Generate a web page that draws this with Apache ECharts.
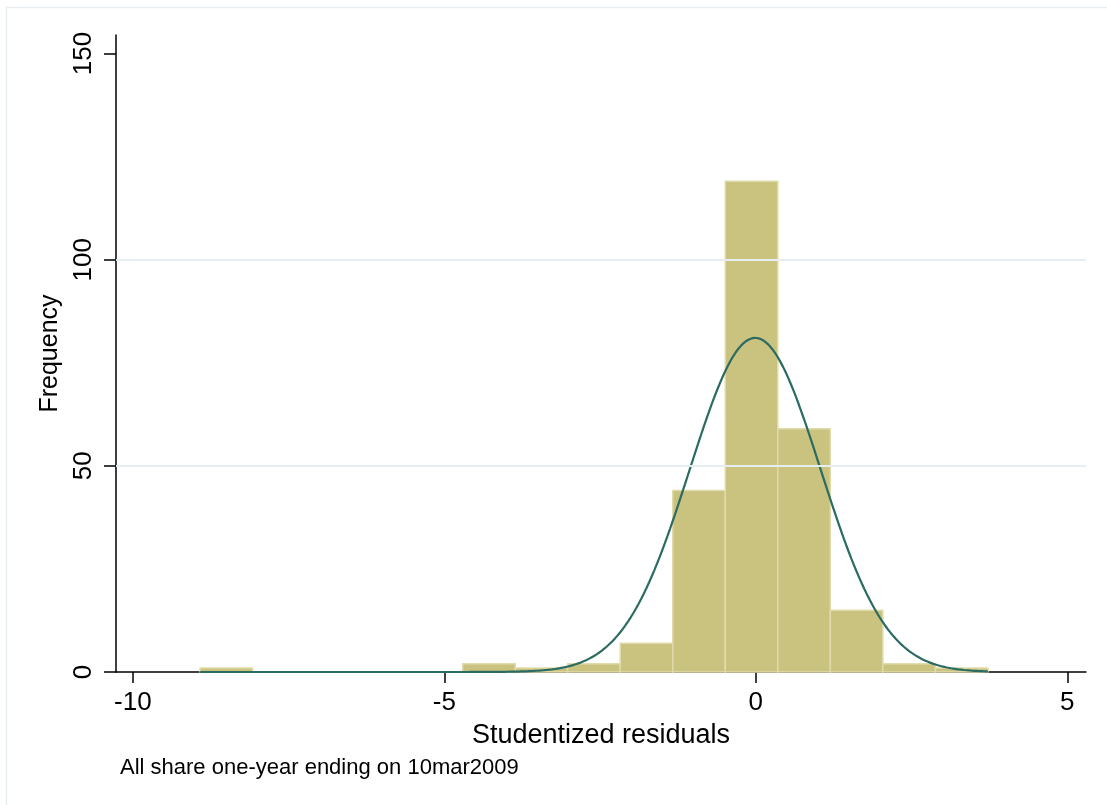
<!DOCTYPE html>
<html>
<head>
<meta charset="utf-8">
<script src="https://cdn.jsdelivr.net/npm/echarts@6/dist/echarts.min.js"></script>
<style>
  html, body { margin: 0; padding: 0; background: #fff; }
  #chart { width: 1107px; height: 805px; }
</style>
</head>
<body>
<div id="chart"></div>
<script>
// histogram of studentized residuals (15 equal bins)
const binStart = -8.92
const binWidth = 0.843
const counts = [1, 0, 0, 0, 0, 2, 1, 2, 7, 44, 119, 59, 15, 2, 1]

// normal overlay, fitted on the residuals
const fitMean = -0.01
const fitSd = 1.05

const xTicks = [-10, -5, 0, 5]
const yTicks = [0, 50, 100, 150]
const gridValues = [50, 100]

const font = '"Liberation Sans", Arial, sans-serif'

const bins = counts.map((c, i) => [binStart + i * binWidth, binStart + (i + 1) * binWidth, c])
const total = counts.reduce((a, b) => a + b, 0)
const binEnd = binStart + counts.length * binWidth

const curve = []
const nSteps = 300
for (let i = 0; i <= nSteps; i++) {
  const x = binStart + (binEnd - binStart) * i / nSteps
  const z = (x - fitMean) / fitSd
  curve.push([x, total * binWidth * Math.exp(-0.5 * z * z) / (fitSd * Math.sqrt(2 * Math.PI))])
}

const chart = echarts.init(document.getElementById('chart'))

chart.setOption({
  backgroundColor: '#fff',
  animation: false,
  grid: { left: 116, top: 35, right: 21, bottom: 133 },
  xAxis: {
    type: 'value',
    min: -10.27,
    max: 5.30,
    name: 'Studentized residuals',
    nameLocation: 'middle',
    nameGap: 50,
    nameTextStyle: { color: '#000', fontSize: 27, fontFamily: font },
    axisLine: { onZero: false, lineStyle: { color: '#000', width: 1.5 } },
    axisTick: { customValues: xTicks, length: 11, lineStyle: { color: '#000', width: 1.5 } },
    axisLabel: { customValues: xTicks, color: '#000', fontSize: 26, fontFamily: font, margin: 18 },
    splitLine: { show: false }
  },
  yAxis: {
    type: 'value',
    min: 0,
    max: 154.5,
    name: 'Frequency',
    nameLocation: 'middle',
    nameGap: 52,
    nameTextStyle: { color: '#000', fontSize: 25, fontFamily: font },
    axisLine: { show: true, onZero: false, lineStyle: { color: '#000', width: 1.5 } },
    axisTick: { show: true, customValues: yTicks, length: 12, lineStyle: { color: '#000', width: 1.5 } },
    axisLabel: { customValues: yTicks, rotate: 90, color: '#000', fontSize: 26, fontFamily: font, margin: 19 },
    splitLine: { show: false }
  },
  graphic: [
    {
      type: 'rect',
      shape: { x: 6.5, y: 7.5, width: 1200, height: 900 },
      style: { fill: 'none', stroke: '#e6eef1', lineWidth: 1.5 },
      silent: true
    },
    {
      type: 'text',
      left: 120,
      top: 757,
      style: { text: 'All share one-year ending on 10mar2009', fill: '#000', fontSize: 22, fontFamily: font }
    }
  ],
  series: [
    // grid lines at 50 and 100
    {
      type: 'line',
      data: [],
      z: 1,
      markLine: {
        silent: true,
        symbol: 'none',
        label: { show: false },
        lineStyle: { color: '#e6eef1', width: 2, type: 'solid' },
        data: gridValues.map(v => ({ yAxis: v }))
      }
    },
    {
      type: 'custom',
      z: 2,
      data: bins,
      renderItem: (params, api) => {
        const p0 = api.coord([api.value(0), api.value(2)])
        const p1 = api.coord([api.value(1), 0])
        return {
          type: 'rect',
          shape: { x: p0[0], y: p0[1], width: p1[0] - p0[0], height: p1[1] - p0[1] },
          style: { fill: '#cac27f', stroke: '#dfdbab', lineWidth: 1.5 }
        }
      }
    },
    {
      type: 'line',
      z: 3,
      data: curve,
      showSymbol: false,
      smooth: false,
      lineStyle: { color: '#2b6b62', width: 2.2 }
    }
  ]
})
</script>
</body>
</html>
